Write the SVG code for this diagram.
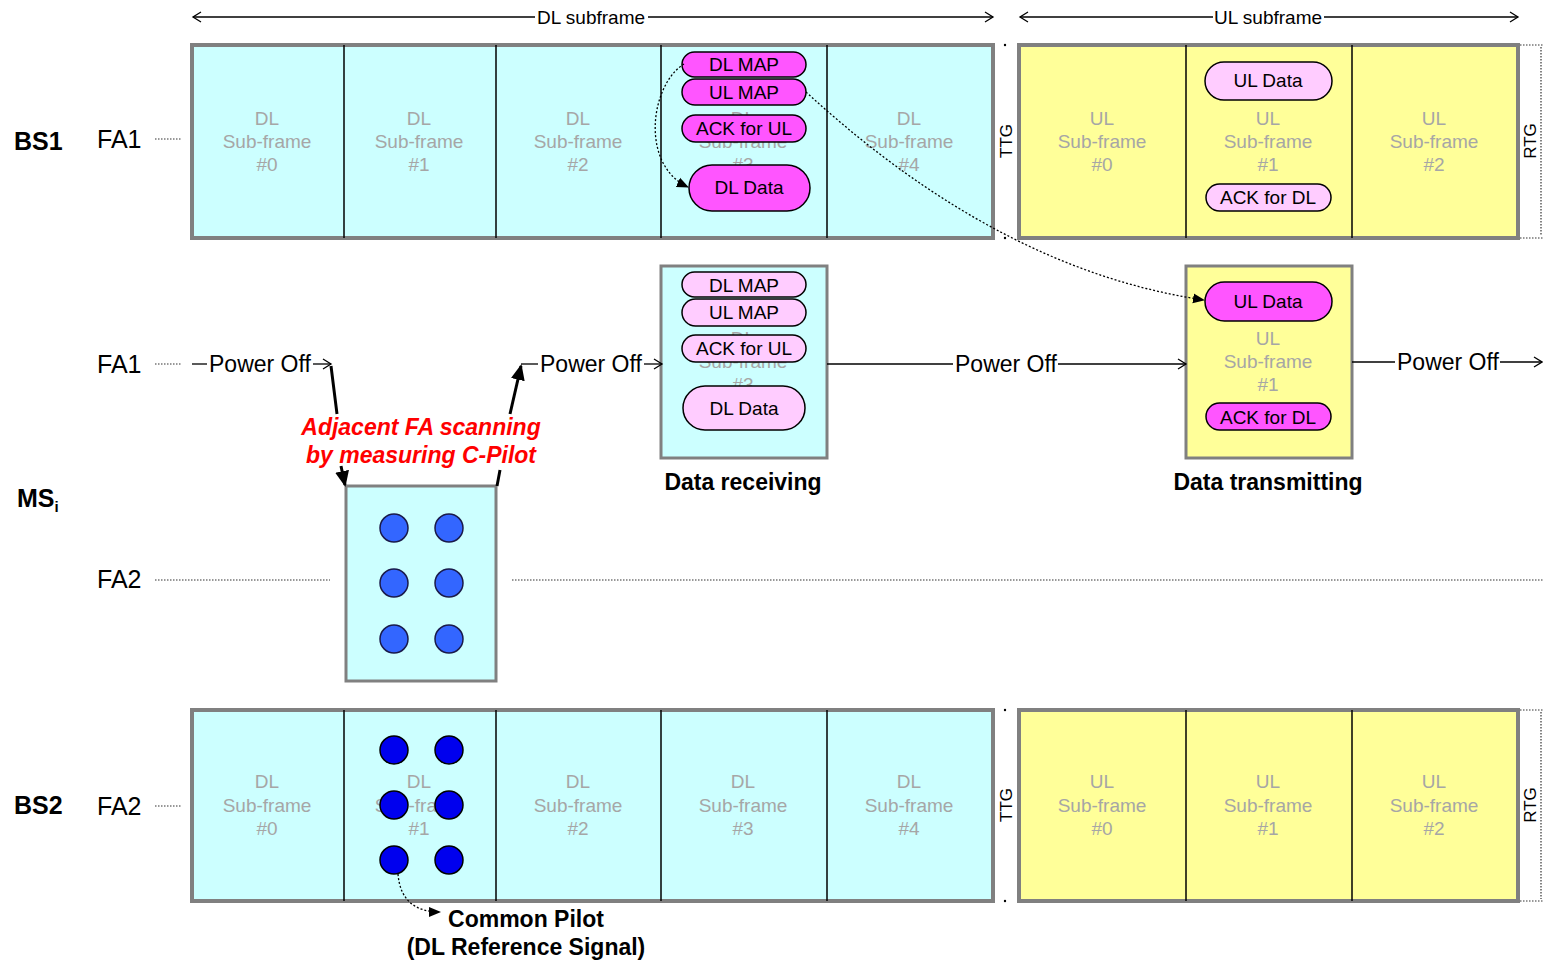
<svg xmlns="http://www.w3.org/2000/svg" width="1543" height="961" viewBox="0 0 1543 961">
<style>
text{font-family:"Liberation Sans",Arial,sans-serif;fill:#000}
.frame{stroke:#808080;stroke-width:4}
.dl{fill:#ccffff}
.ul{fill:#ffff99}
.div{stroke:#000;stroke-width:1.5}
.g{fill:#a6a6a6;font-size:19px;text-anchor:middle}
.pm{fill:#ff55ff;stroke:#000;stroke-width:1.5}
.pl{fill:#ffccff;stroke:#000;stroke-width:1.5}
.pt{font-size:19px;text-anchor:middle}
.lbl{font-size:25px}
.bs{font-size:25px;font-weight:bold}
.po{font-size:23px}
.ln{stroke:#000;stroke-width:1.3;fill:none}
.dot{stroke:#333;stroke-width:1.2;stroke-dasharray:1.5,1.5;fill:none}
.cur{stroke:#000;stroke-width:1.3;stroke-dasharray:2,2;fill:none}
.thick{stroke:#000;stroke-width:3;fill:none}
.rt{font-size:17px;text-anchor:middle}
.c1{fill:#3366ff;stroke:#1a1a4a;stroke-width:1.5}
.c2{fill:#0000ee;stroke:#000;stroke-width:1.5}
.bold{font-weight:bold;text-anchor:middle;font-size:23px}
.red{fill:#ff0000;font-size:23px;font-weight:bold;font-style:italic;text-anchor:middle}
</style>
<defs>
<marker id="open" markerWidth="12" markerHeight="12" refX="10" refY="6" orient="auto" markerUnits="userSpaceOnUse">
<path d="M2,1 L10,6 L2,11" fill="none" stroke="#000" stroke-width="1.3"/>
</marker>
<marker id="fill" markerWidth="12" markerHeight="12" refX="11" refY="6" orient="auto" markerUnits="userSpaceOnUse">
<path d="M0,1 L12,6 L0,11 Z" fill="#000"/>
</marker>
<marker id="big" markerWidth="16" markerHeight="14" refX="14" refY="7" orient="auto" markerUnits="userSpaceOnUse">
<path d="M0,0 L16,7 L0,14 Z" fill="#000"/>
</marker>
</defs>

<!-- dimension arrows -->
<g id="dl-dim">
<line class="ln" x1="535" y1="17" x2="193" y2="17" marker-end="url(#open)"/>
<line class="ln" x1="648" y1="17" x2="993" y2="17" marker-end="url(#open)"/>
<text x="591" y="24" font-size="19" text-anchor="middle">DL subframe</text>
</g>
<g id="ul-dim">
<line class="ln" x1="1213" y1="17" x2="1020" y2="17" marker-end="url(#open)"/>
<line class="ln" x1="1324" y1="17" x2="1518" y2="17" marker-end="url(#open)"/>
<text x="1268" y="24" font-size="19" text-anchor="middle">UL subframe</text>
</g>

<!-- BS1 -->
<g id="bs1">
<text class="bs" x="14" y="150">BS1</text>
<text class="lbl" x="97" y="148">FA1</text>
<line class="dot" x1="155" y1="139" x2="182" y2="139"/>
<rect class="frame dl" x="192" y="45" width="801" height="193"/>
<line class="div" x1="344" y1="45" x2="344" y2="238"/>
<line class="div" x1="496" y1="45" x2="496" y2="238"/>
<line class="div" x1="661" y1="45" x2="661" y2="238"/>
<line class="div" x1="827" y1="45" x2="827" y2="238"/>
<text class="g" x="267" y="125">DL</text><text class="g" x="267" y="148">Sub-frame</text><text class="g" x="267" y="171">#0</text>
<text class="g" x="419" y="125">DL</text><text class="g" x="419" y="148">Sub-frame</text><text class="g" x="419" y="171">#1</text>
<text class="g" x="578" y="125">DL</text><text class="g" x="578" y="148">Sub-frame</text><text class="g" x="578" y="171">#2</text>
<text class="g" x="743" y="125">DL</text><text class="g" x="743" y="148">Sub-frame</text><text class="g" x="743" y="171">#3</text>
<text class="g" x="909" y="125">DL</text><text class="g" x="909" y="148">Sub-frame</text><text class="g" x="909" y="171">#4</text>
<rect class="pm" x="682" y="52" width="124" height="25" rx="12.5"/><text class="pt" x="744" y="71">DL MAP</text>
<rect class="pm" x="682" y="79" width="124" height="26" rx="13"/><text class="pt" x="744" y="99">UL MAP</text>
<rect class="pm" x="682" y="115" width="124" height="27" rx="13.5"/><text class="pt" x="744" y="135">ACK for UL</text>
<rect class="pm" x="689" y="165" width="121" height="46" rx="23"/><text class="pt" x="749" y="194">DL Data</text>
<text class="rt" x="0" y="0" transform="translate(1012 141) rotate(-90)">TTG</text>
<circle cx="1005" cy="45" r="1.2" fill="#000"/><circle cx="1005" cy="238" r="1.2" fill="#000"/>
<rect class="frame ul" x="1019" y="45" width="499" height="193"/>
<line class="div" x1="1186" y1="45" x2="1186" y2="238"/>
<line class="div" x1="1352" y1="45" x2="1352" y2="238"/>
<text class="g" x="1102" y="125">UL</text><text class="g" x="1102" y="148">Sub-frame</text><text class="g" x="1102" y="171">#0</text>
<text class="g" x="1268" y="125">UL</text><text class="g" x="1268" y="148">Sub-frame</text><text class="g" x="1268" y="171">#1</text>
<text class="g" x="1434" y="125">UL</text><text class="g" x="1434" y="148">Sub-frame</text><text class="g" x="1434" y="171">#2</text>
<rect class="pl" x="1205" y="62" width="127" height="38" rx="19"/><text class="pt" x="1268" y="87">UL Data</text>
<rect class="pl" x="1206" y="184" width="125" height="27" rx="13.5"/><text class="pt" x="1268" y="204">ACK for DL</text>
<text class="rt" x="0" y="0" transform="translate(1536 141) rotate(-90)">RTG</text>
<line class="dot" x1="1520" y1="45" x2="1543" y2="45"/><line class="dot" x1="1520" y1="238" x2="1543" y2="238"/>
<line class="dot" x1="1541" y1="47" x2="1541" y2="236"/>
</g>

<!-- MS -->
<g id="ms-labels">
<text class="bs" x="17" y="507">MS<tspan font-size="15" dy="5">i</tspan></text>
<text class="lbl" x="97" y="373">FA1</text>
<line class="dot" x1="155" y1="364" x2="182" y2="364"/>
<text class="lbl" x="97" y="588">FA2</text>
<line class="dot" x1="155" y1="580" x2="330" y2="580"/>
<line class="dot" x1="512" y1="580" x2="1543" y2="580"/>
</g>

<g id="data-receiving">
<rect class="frame dl" x="661" y="266" width="166" height="192" style="stroke-width:3"/>
<text class="g" x="743" y="345">DL</text><text class="g" x="743" y="368">Sub-frame</text><text class="g" x="743" y="391">#3</text>
<rect class="pl" x="682" y="272" width="124" height="25" rx="12.5"/><text class="pt" x="744" y="292">DL MAP</text>
<rect class="pl" x="682" y="299" width="124" height="27" rx="13.5"/><text class="pt" x="744" y="319">UL MAP</text>
<rect class="pl" x="682" y="335" width="124" height="27" rx="13.5"/><text class="pt" x="744" y="355">ACK for UL</text>
<rect class="pl" x="683" y="386" width="122" height="44" rx="22"/><text class="pt" x="744" y="415">DL Data</text>
<text class="bold" x="743" y="490">Data receiving</text>
</g>

<g id="data-transmitting">
<rect class="frame ul" x="1186" y="266" width="166" height="192" style="stroke-width:3"/>
<text class="g" x="1268" y="345">UL</text><text class="g" x="1268" y="368">Sub-frame</text><text class="g" x="1268" y="391">#1</text>
<rect class="pm" x="1205" y="282" width="127" height="39" rx="19.5"/><text class="pt" x="1268" y="308">UL Data</text>
<rect class="pm" x="1206" y="403" width="125" height="27" rx="13.5"/><text class="pt" x="1268" y="424">ACK for DL</text>
<text class="bold" x="1268" y="490">Data transmitting</text>
</g>

<g id="scan-box">
<rect class="frame dl" x="346" y="486" width="150" height="195" style="stroke-width:3"/>
<circle class="c1" cx="394" cy="528" r="14"/><circle class="c1" cx="449" cy="528" r="14"/>
<circle class="c1" cx="394" cy="583" r="14"/><circle class="c1" cx="449" cy="583" r="14"/>
<circle class="c1" cx="394" cy="639" r="14"/><circle class="c1" cx="449" cy="639" r="14"/>
</g>

<!-- BS2 -->
<g id="bs2">
<text class="bs" x="14" y="814">BS2</text>
<text class="lbl" x="97" y="815">FA2</text>
<line class="dot" x1="155" y1="806" x2="182" y2="806"/>
<rect class="frame dl" x="192" y="710" width="801" height="191"/>
<line class="div" x1="344" y1="710" x2="344" y2="901"/>
<line class="div" x1="496" y1="710" x2="496" y2="901"/>
<line class="div" x1="661" y1="710" x2="661" y2="901"/>
<line class="div" x1="827" y1="710" x2="827" y2="901"/>
<text class="g" x="267" y="788">DL</text><text class="g" x="267" y="812">Sub-frame</text><text class="g" x="267" y="835">#0</text>
<text class="g" x="419" y="788">DL</text><text class="g" x="419" y="812">Sub-frame</text><text class="g" x="419" y="835">#1</text>
<text class="g" x="578" y="788">DL</text><text class="g" x="578" y="812">Sub-frame</text><text class="g" x="578" y="835">#2</text>
<text class="g" x="743" y="788">DL</text><text class="g" x="743" y="812">Sub-frame</text><text class="g" x="743" y="835">#3</text>
<text class="g" x="909" y="788">DL</text><text class="g" x="909" y="812">Sub-frame</text><text class="g" x="909" y="835">#4</text>
<circle class="c2" cx="394" cy="750" r="14"/><circle class="c2" cx="449" cy="750" r="14"/>
<circle class="c2" cx="394" cy="805" r="14"/><circle class="c2" cx="449" cy="805" r="14"/>
<circle class="c2" cx="394" cy="860" r="14"/><circle class="c2" cx="449" cy="860" r="14"/>
<text class="rt" x="0" y="0" transform="translate(1012 805) rotate(-90)">TTG</text>
<circle cx="1005" cy="710" r="1.2" fill="#000"/><circle cx="1005" cy="901" r="1.2" fill="#000"/>
<rect class="frame ul" x="1019" y="710" width="499" height="191"/>
<line class="div" x1="1186" y1="710" x2="1186" y2="901"/>
<line class="div" x1="1352" y1="710" x2="1352" y2="901"/>
<text class="g" x="1102" y="788">UL</text><text class="g" x="1102" y="812">Sub-frame</text><text class="g" x="1102" y="835">#0</text>
<text class="g" x="1268" y="788">UL</text><text class="g" x="1268" y="812">Sub-frame</text><text class="g" x="1268" y="835">#1</text>
<text class="g" x="1434" y="788">UL</text><text class="g" x="1434" y="812">Sub-frame</text><text class="g" x="1434" y="835">#2</text>
<text class="rt" x="0" y="0" transform="translate(1536 805) rotate(-90)">RTG</text>
<line class="dot" x1="1520" y1="710" x2="1543" y2="710"/><line class="dot" x1="1520" y1="901" x2="1543" y2="901"/>
<line class="dot" x1="1541" y1="712" x2="1541" y2="899"/>
<text class="bold" x="526" y="927">Common Pilot</text>
<text class="bold" x="526" y="955">(DL Reference Signal)</text>
</g>

<!-- connectors -->
<g id="connectors">
<path class="cur" d="M684,64 C650,85 640,165 688,187" marker-end="url(#fill)"/>
<path class="cur" d="M806,92 Q1000,270 1204,300" marker-end="url(#fill)"/>
<path class="cur" d="M398,874 C400,900 415,912 440,912" marker-end="url(#fill)"/>
<line class="ln" x1="192" y1="364" x2="207" y2="364"/>
<text class="po" x="209" y="372">Power Off</text>
<line class="ln" x1="313" y1="364" x2="331" y2="364" marker-end="url(#open)"/>
<line class="thick" x1="331" y1="366" x2="337" y2="414"/>
<line class="thick" x1="341" y1="466" x2="345" y2="485" marker-end="url(#big)"/>
<line class="thick" x1="497" y1="486" x2="500" y2="470"/>
<line class="thick" x1="510" y1="414" x2="521" y2="366" marker-end="url(#big)"/>
<line class="ln" x1="521" y1="364" x2="538" y2="364"/>
<text class="po" x="540" y="372">Power Off</text>
<line class="ln" x1="644" y1="364" x2="662" y2="364" marker-end="url(#open)"/>
<line class="ln" x1="827" y1="364" x2="953" y2="364"/>
<text class="po" x="955" y="372">Power Off</text>
<line class="ln" x1="1058" y1="364" x2="1186" y2="364" marker-end="url(#open)"/>
<line class="ln" x1="1352" y1="362" x2="1395" y2="362"/>
<text class="po" x="1397" y="370">Power Off</text>
<line class="ln" x1="1500" y1="362" x2="1542" y2="362" marker-end="url(#open)"/>
<text class="red" x="421" y="435">Adjacent FA scanning</text>
<text class="red" x="421" y="463">by measuring C-Pilot</text>
</g>
</svg>
